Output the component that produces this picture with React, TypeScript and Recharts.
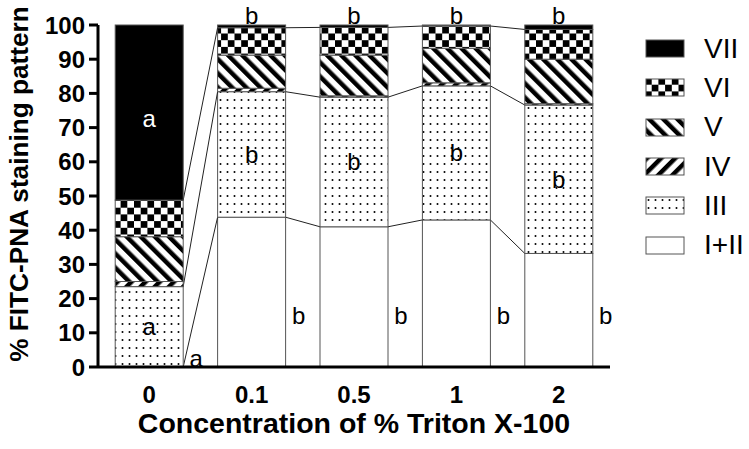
import { BarChart, Bar, XAxis, YAxis, Legend, LabelList } from 'recharts';

const categories = ['0', '0.1', '0.5', '1', '2'];
const stageI_II = [0, 43.8, 41.0, 43.0, 33.2];
const stageIII = [23.5, 36.7, 37.9, 39.2, 43.4];
const stageIV = [1.5, 1.0, 0.4, 0.9, 0.4];
const stageV = [13.1, 9.7, 11.9, 10.1, 13.0];
const stageVI = [10.7, 8.0, 8.1, 6.5, 8.7];
const stageVII = [51.2, 0.8, 0.7, 0.3, 1.3];

const lettersI_II = ['a', 'b', 'b', 'b', 'b'];
const lettersIII = ['a', 'b', 'b', 'b', 'b'];
const lettersVII = ['a', 'b', 'b', 'b', 'b'];

const yTicks = [0, 10, 20, 30, 40, 50, 60, 70, 80, 90, 100];

const data = categories.map((conc, i) => ({
  conc,
  I_II: stageI_II[i],
  III: stageIII[i],
  IV: stageIV[i],
  V: stageV[i],
  VI: stageVI[i],
  VII: stageVII[i],
}));

// cumulative tops used for the connecting lines between bars
const topI_II = stageI_II;
const topIII = categories.map((_, i) => stageI_II[i] + stageIII[i]);
const topVI = categories.map(
  (_, i) => stageI_II[i] + stageIII[i] + stageIV[i] + stageV[i] + stageVI[i]
);

const FONT = 'Arial, "Liberation Sans", Helvetica, sans-serif';
const GAP = 0.168;
const EDGE = '#555';

const series = [
  { key: 'I_II', name: 'I+II', fill: '#ffffff', tops: topI_II },
  { key: 'III', name: 'III', fill: 'url(#patIII)', tops: topIII },
  { key: 'IV', name: 'IV', fill: 'url(#patIV)' },
  { key: 'V', name: 'V', fill: 'url(#patV)' },
  { key: 'VI', name: 'VI', fill: 'url(#patVI)', tops: topVI },
  { key: 'VII', name: 'VII', fill: '#000000' },
];

const Patterns = () => (
  <svg width={0} height={0} style={{ position: 'absolute' }}>
    <defs>
      <pattern id="patIII" patternUnits="userSpaceOnUse" width={7} height={8}>
        <rect width={7} height={8} fill="#fff" />
        <circle cx={3.5} cy={4} r={1} fill="#000" />
      </pattern>
      <pattern id="patIV" patternUnits="userSpaceOnUse" width={10} height={10} patternTransform="rotate(45)">
        <rect width={10} height={10} fill="#fff" />
        <rect width={4.5} height={10} fill="#000" />
      </pattern>
      <pattern id="patV" patternUnits="userSpaceOnUse" width={10} height={10} patternTransform="rotate(-45)">
        <rect width={10} height={10} fill="#fff" />
        <rect width={4.5} height={10} fill="#000" />
      </pattern>
      <pattern id="patVI" patternUnits="userSpaceOnUse" width={13.4} height={13.4}>
        <rect width={13.4} height={13.4} fill="#fff" />
        <rect width={6.7} height={6.7} fill="#000" />
        <rect x={6.7} y={6.7} width={6.7} height={6.7} fill="#000" />
      </pattern>
    </defs>
  </svg>
);

const segmentShape = (fill: string, tops?: number[]) => (props: any) => {
  const { x, y, width, height, index, background, value } = props;
  const parts: any[] = [];
  if (height > 0.05) {
    parts.push(
      <rect key="r" x={x} y={y} width={width} height={height} fill={fill} stroke={EDGE} strokeWidth={1} />
    );
  }
  if (tops && index > 0) {
    let toPx: (v: number) => number;
    if (background && background.height) {
      toPx = (v) => background.y + background.height * (1 - v / 100);
    } else {
      const [lo, hi] = Array.isArray(value) ? value : [0, value];
      const k = height / (hi - lo || 1);
      toPx = (v) => y + height - (v - lo) * k;
    }
    const step = width / (1 - 2 * GAP);
    parts.push(
      <line key="l" x1={x - step + width} y1={toPx(tops[index - 1])} x2={x} y2={y} stroke="#222" strokeWidth={1} />
    );
  }
  return <g>{parts}</g>;
};

const boxOf = (p: any) => {
  const vb = p.viewBox || {};
  return {
    x: p.x ?? vb.x,
    y: p.y ?? vb.y,
    width: p.width ?? vb.width,
    height: p.height ?? vb.height,
  };
};

const letterStyle = { fontSize: 24, fontFamily: FONT };

const renderLetterI_II = (p: any) => {
  const { x, y, width, height } = boxOf(p);
  const v = stageI_II[p.index];
  const bottom = y + height;
  const cy = v > 0 ? bottom - (height * 15) / v : bottom - 9;
  return (
    <text x={x + width + 13} y={cy} textAnchor="middle" dominantBaseline="central" fill="#000" style={letterStyle}>
      {lettersI_II[p.index]}
    </text>
  );
};

const renderLetterIII = (p: any) => {
  const { x, y, width, height } = boxOf(p);
  return (
    <text x={x + width / 2} y={y + height / 2} textAnchor="middle" dominantBaseline="central" fill="#000" style={letterStyle}>
      {lettersIII[p.index]}
    </text>
  );
};

const renderLetterVII = (p: any) => {
  const { x, y, width, height } = boxOf(p);
  const inside = height > 20;
  return (
    <text
      x={x + width / 2}
      y={inside ? y + height / 2 + 6 : y - 1}
      textAnchor="middle"
      dominantBaseline={inside ? 'central' : 'auto'}
      fill={inside ? '#fff' : '#000'}
      style={letterStyle}
    >
      {lettersVII[p.index]}
    </text>
  );
};

const renderLegend = () => (
  <div style={{ boxSizing: 'border-box', width: 139, paddingLeft: 35, paddingTop: 4, fontFamily: FONT }}>
    {[...series].reverse().map((s) => (
      <div key={s.key} style={{ display: 'flex', alignItems: 'center', height: 39.3 }}>
        <svg width={40} height={19} style={{ display: 'block', flex: 'none' }}>
          <rect x={1} y={1} width={38} height={17} fill={s.fill} stroke={EDGE} strokeWidth={1} />
        </svg>
        <span style={{ marginLeft: 19, fontSize: 28, color: '#000', lineHeight: '30px', whiteSpace: 'nowrap' }}>
          {s.name}
        </span>
      </div>
    ))}
  </div>
);

const yLabel = (p: any) => {
  const vb = p.viewBox;
  const cx = 28;
  const cy = vb.y + vb.height / 2 - 12;
  return (
    <text
      x={cx}
      y={cy}
      transform={`rotate(-90, ${cx}, ${cy})`}
      textAnchor="middle"
      fill="#000"
      style={{ fontSize: 26.2, fontWeight: 'bold', fontFamily: FONT }}
    >
      % FITC-PNA staining pattern
    </text>
  );
};

const xLabel = (p: any) => {
  const vb = p.viewBox;
  return (
    <text
      x={vb.x + vb.width / 2}
      y={vb.y + 66}
      textAnchor="middle"
      fill="#000"
      style={{ fontSize: 28.5, fontWeight: 'bold', fontFamily: FONT }}
    >
      Concentration of % Triton X-100
    </text>
  );
};

const tickStyle = { fontSize: 24, fontWeight: 'bold', fill: '#000', fontFamily: FONT };

export default function App() {
  return (
    <div style={{ position: 'absolute', left: 0, top: 0, width: 749, height: 449, background: '#fff', fontFamily: FONT }}>
      <Patterns />
      <BarChart
        width={749}
        height={449}
        data={data}
        margin={{ top: 25, right: 0, bottom: 0, left: 0 }}
        barCategoryGap={`${GAP * 100}%`}
      >
        <XAxis
          dataKey="conc"
          height={82}
          tickLine={false}
          tickSize={0}
          tickMargin={19}
          axisLine={{ stroke: '#000', strokeWidth: 3 }}
          tick={tickStyle}
          label={{ content: xLabel }}
        />
        <YAxis
          width={98}
          domain={[0, 100]}
          ticks={yTicks}
          interval={0}
          tickSize={9}
          tickMargin={4}
          axisLine={{ stroke: '#000', strokeWidth: 3 }}
          tickLine={{ stroke: '#000', strokeWidth: 3 }}
          tick={tickStyle}
          label={{ content: yLabel }}
        />
        <Legend
          layout="vertical"
          align="right"
          verticalAlign="top"
          wrapperStyle={{ left: 610, right: 'auto', top: 25, width: 139 }}
          content={renderLegend}
        />
        {series.map((s) => (
          <Bar
            key={s.key}
            dataKey={s.key}
            name={s.name}
            stackId="stage"
            fill={s.fill}
            isAnimationActive={false}
            shape={segmentShape(s.fill, s.tops)}
          >
            {s.key === 'I_II' && <LabelList dataKey="I_II" content={renderLetterI_II} />}
            {s.key === 'III' && <LabelList dataKey="III" content={renderLetterIII} />}
            {s.key === 'VII' && <LabelList dataKey="VII" content={renderLetterVII} />}
          </Bar>
        ))}
      </BarChart>
    </div>
  );
}
